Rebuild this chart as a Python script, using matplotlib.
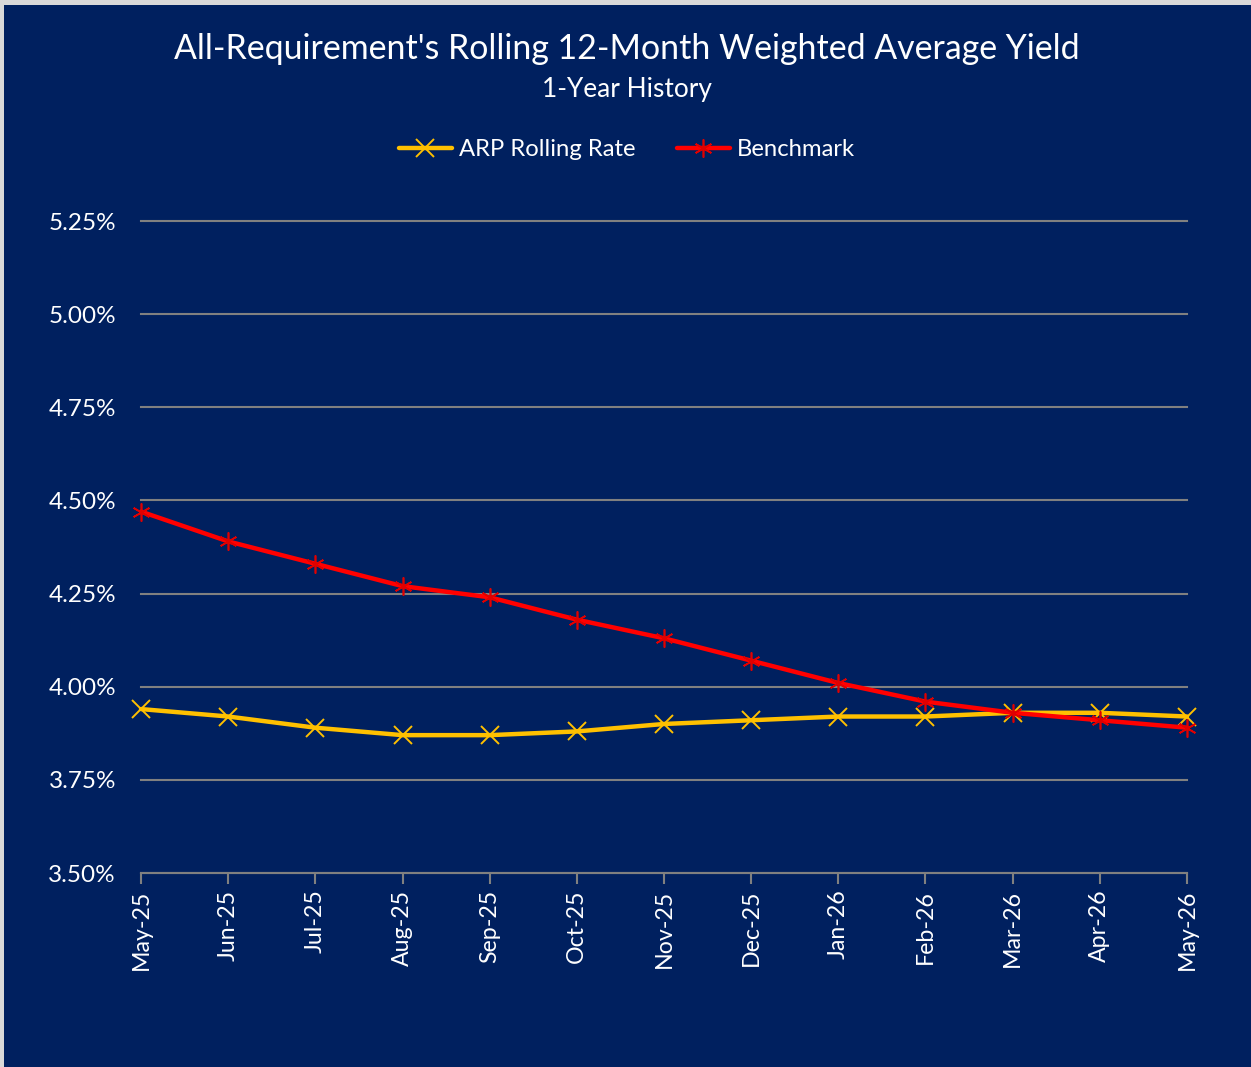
import matplotlib
matplotlib.use("Agg")
import matplotlib.pyplot as plt
from matplotlib.patches import Rectangle
from matplotlib.ticker import FuncFormatter, FixedLocator

months = ["May-25", "Jun-25", "Jul-25", "Aug-25", "Sep-25", "Oct-25", "Nov-25",
          "Dec-25", "Jan-26", "Feb-26", "Mar-26", "Apr-26", "May-26"]
arp_rate = [3.94, 3.92, 3.89, 3.87, 3.87, 3.88, 3.90, 3.91, 3.92, 3.92, 3.93, 3.93, 3.92]
benchmark = [4.47, 4.39, 4.33, 4.27, 4.24, 4.18, 4.13, 4.07, 4.01, 3.96, 3.93, 3.91, 3.89]
y_ticks = [3.50, 3.75, 4.00, 4.25, 4.50, 4.75, 5.00, 5.25]

NAVY = "#00205F"
FONT = ["Lato", "DejaVu Sans"]
plt.rcParams['font.family'] = FONT

W, H = 1251, 1067
fig = plt.figure(figsize=(W / 100, H / 100), dpi=100, facecolor="#D9D9D9")
fig.patches.append(Rectangle((4 / W, 0), 1, 1 - 5 / H, transform=fig.transFigure,
                             facecolor=NAVY, edgecolor="none", zorder=-10))

ax = fig.add_axes([141 / W, 1 - 873 / H, (1187 - 141) / W, (873 - 221) / H])
ax.set_facecolor(NAVY)
x = list(range(len(months)))

ax.plot(x, arp_rate, color="#FFC000", lw=3.2, marker="x", ms=13, mew=1.4,
        mec="#FFC000", label="ARP Rolling Rate", zorder=3, solid_capstyle="round",
        clip_on=False)
ax.plot(x, benchmark, color="#FF0000", lw=3.2, marker=(6, 2, 0), ms=13, mew=1.2,
        mec="#E00000", label="Benchmark", zorder=4, solid_capstyle="round",
        clip_on=False)

ax.set_xlim(0, len(months) - 1)
ax.set_ylim(3.50, 5.25)
ax.yaxis.set_major_locator(FixedLocator(y_ticks))
ax.yaxis.set_major_formatter(FuncFormatter(lambda v, p: f"{v:.2f}%"))
ax.set_xticks(x)
ax.set_xticklabels(months, rotation=90)
ax.grid(axis="y", color="#808080", lw=1.5)
for gl in ax.get_ygridlines():
    gl.set_clip_on(False)
ax.set_axisbelow(True)
for s in ["left", "right", "top"]:
    ax.spines[s].set_visible(False)
ax.spines["bottom"].set_color("#808080")
ax.spines["bottom"].set_linewidth(1.5)
ax.tick_params(axis="y", length=0, pad=18, labelsize=17.5, labelcolor="white")
ax.tick_params(axis="x", length=8, width=1.5, color="#808080", direction="out",
               pad=4, labelsize=16.7, labelcolor="white")

fig.text(627 / W, 1 - 49 / H, "All-Requirement's Rolling 12-Month Weighted Average Yield",
         ha="center", va="center", color="white", fontsize=24.4)
fig.text(627 / W, 1 - 90 / H, "1-Year History", ha="center", va="center",
         color="white", fontsize=18.9)

leg = fig.legend(loc="center", bbox_to_anchor=(627 / W, 1 - 150 / H), ncol=2,
                 frameon=False, fontsize=17.2, labelcolor="white", handlelength=2.2,
                 columnspacing=1.75, handletextpad=0.3)

fig.savefig("out.png", dpi=100, facecolor=fig.get_facecolor())
